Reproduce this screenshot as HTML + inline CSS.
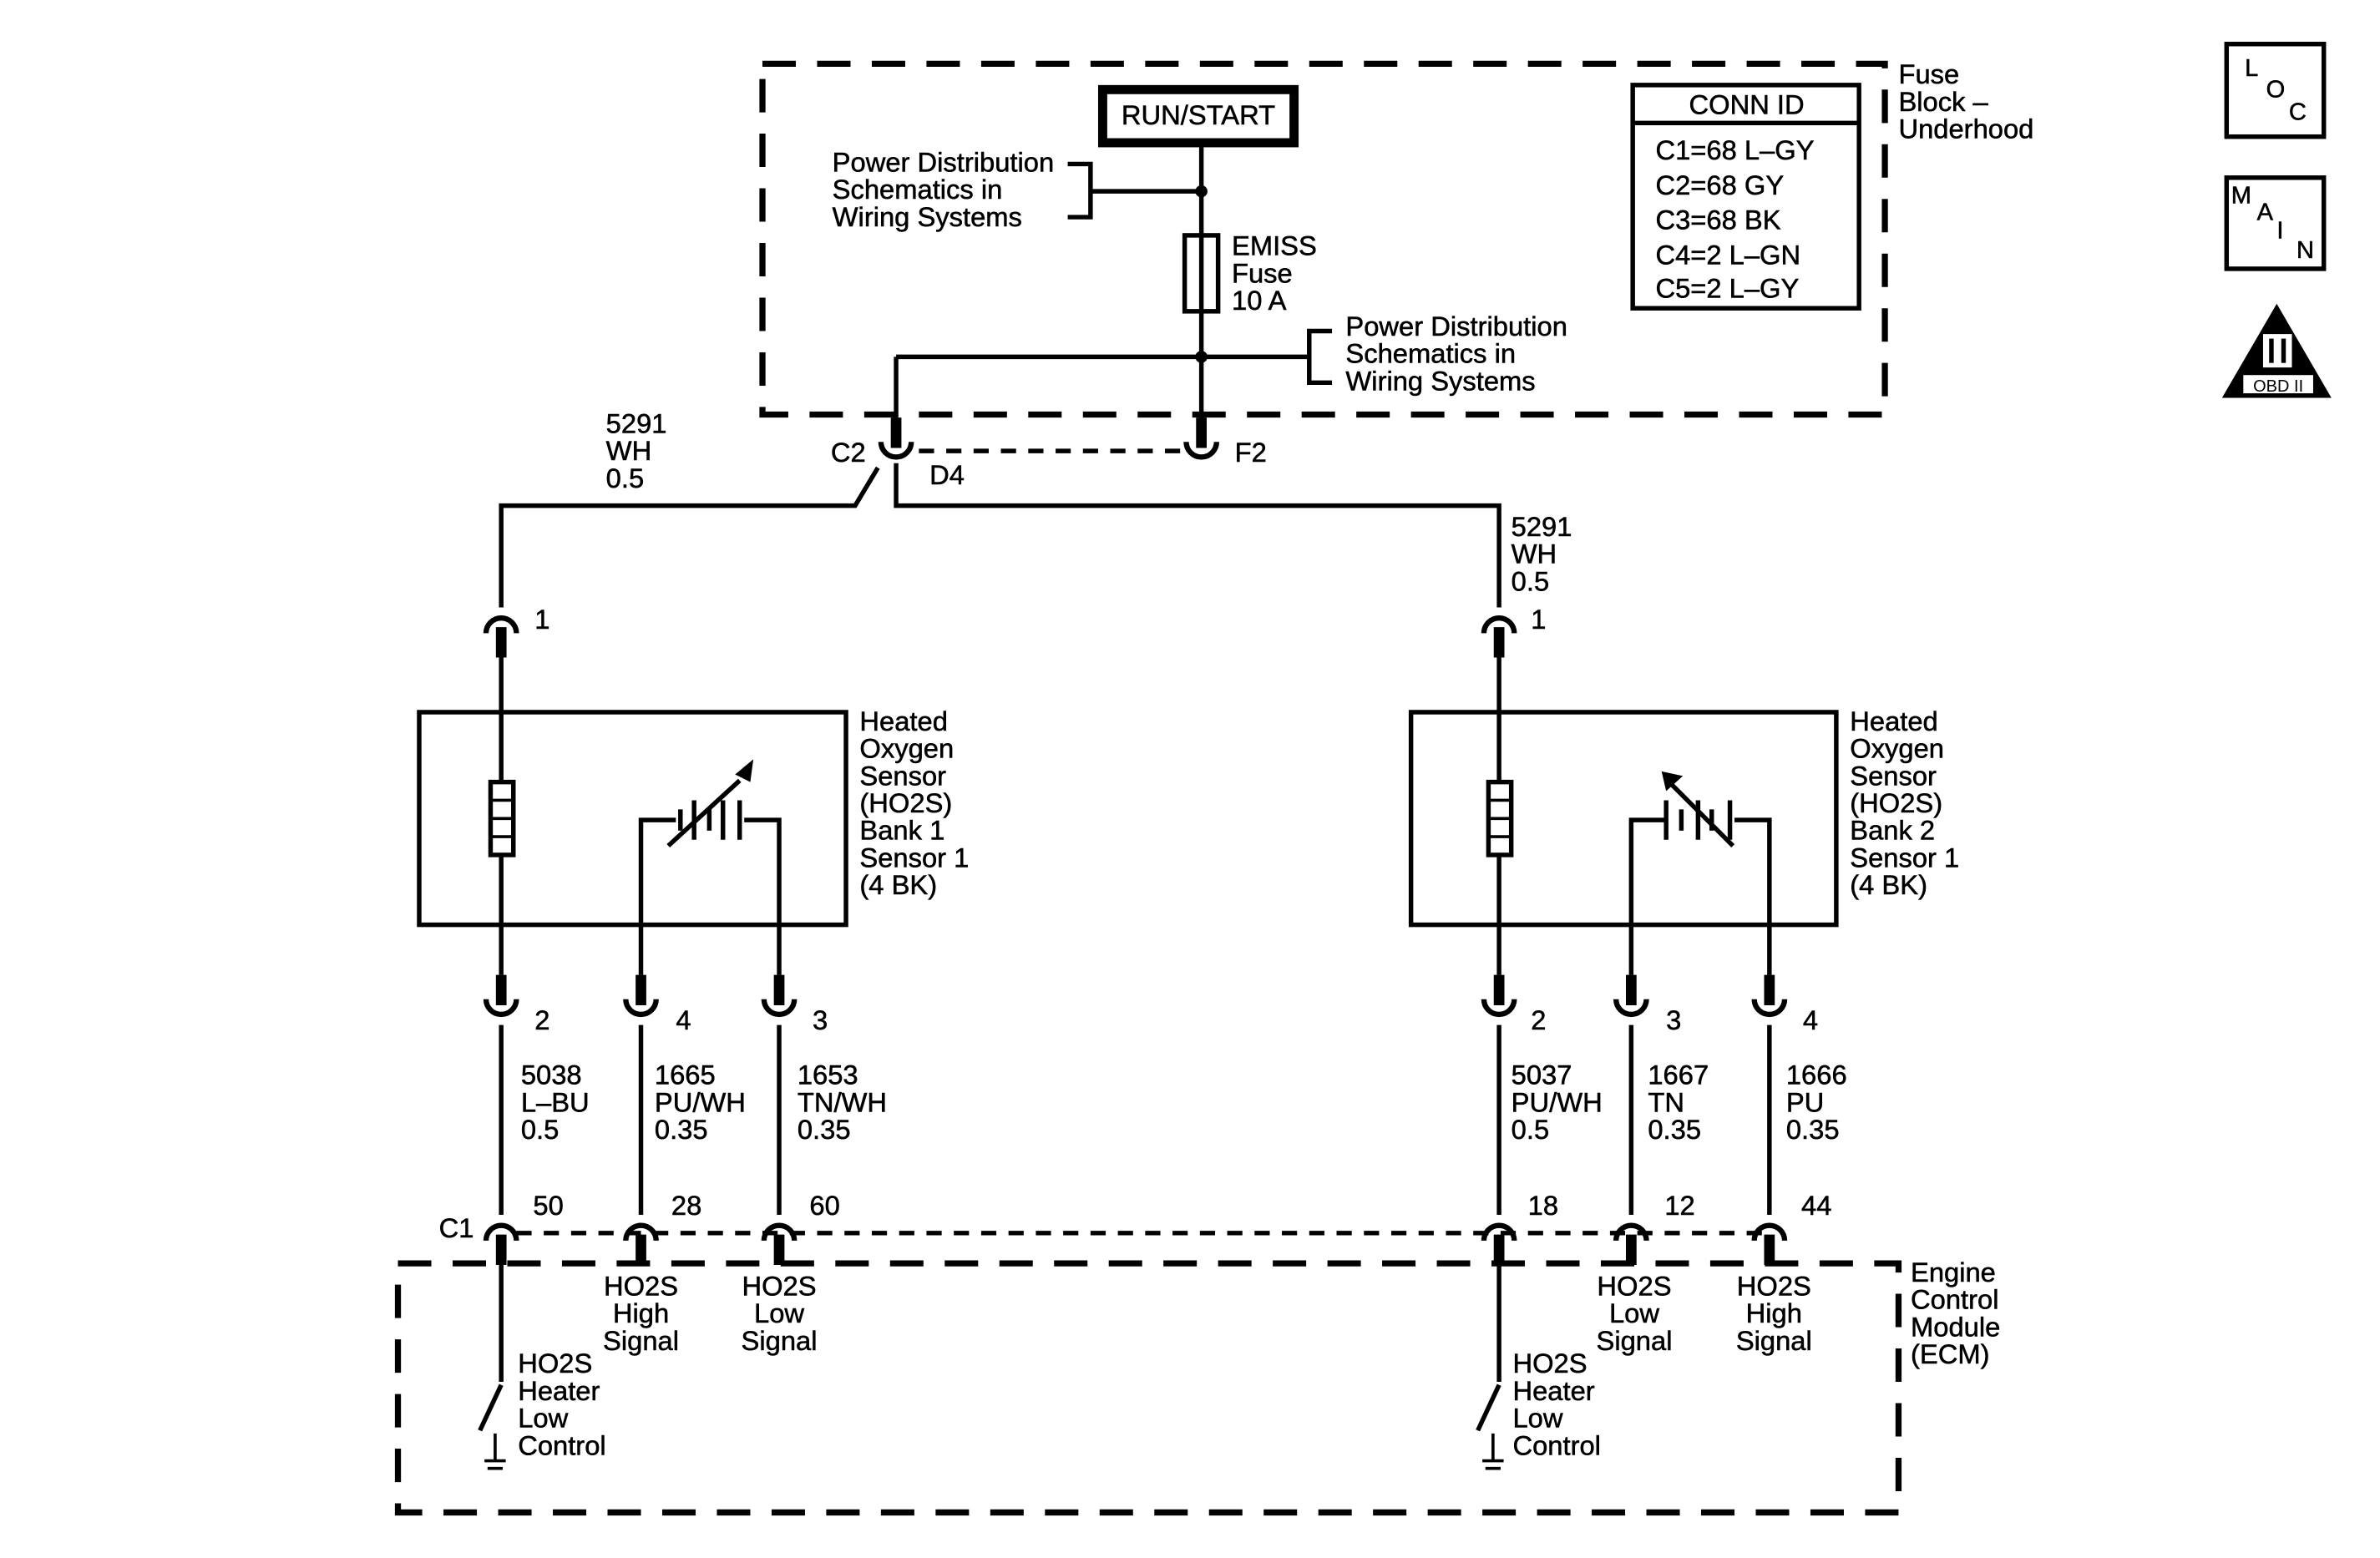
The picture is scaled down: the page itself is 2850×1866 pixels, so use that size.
<!DOCTYPE html>
<html><head><meta charset="utf-8"><style>
html,body{margin:0;padding:0;background:#fff}
svg{display:block}
text{font-family:"Liberation Sans",Arial,sans-serif;font-size:18px;fill:#000;stroke:#000;stroke-width:0.3}
</style></head><body>
<svg width="2850" height="1866" viewBox="0 0 1567 1026" preserveAspectRatio="none" xmlns="http://www.w3.org/2000/svg">
<defs>
<g id="arch"><path d="M-10 7 A10 10 0 0 1 10 7" fill="none" stroke="#000" stroke-width="3.5"/><rect x="-3.5" y="3" width="7" height="20" fill="#000"/></g>
<g id="cup"><path d="M-10 -7 A10 10 0 0 0 10 -7" fill="none" stroke="#000" stroke-width="3.5"/><rect x="-3.5" y="-23" width="7" height="20" fill="#000"/></g>
</defs>
<g fill="none" stroke="#000">
<rect x="502" y="42" width="739" height="231" stroke-width="4" stroke-dasharray="22,14"/>
<rect x="262" y="832" width="988" height="164" stroke-width="4" stroke-dasharray="22,14"/>
<line x1="340" y1="812" x2="1160" y2="812" stroke-width="3" stroke-dasharray="10,8"/>
<line x1="605" y1="297" x2="780" y2="297" stroke-width="3" stroke-dasharray="10,8"/>
<rect x="726" y="59" width="126" height="35" stroke-width="6"/>
<g stroke-width="3">
<line x1="791" y1="96" x2="791" y2="285"/>
<line x1="718" y1="126" x2="791" y2="126"/>
<polyline points="703,108 718,108 718,143 703,143"/>
<rect x="780" y="155" width="22" height="50"/>
<line x1="590" y1="235" x2="862" y2="235"/>
<polyline points="877,218 862,218 862,252 877,252"/>
<line x1="590" y1="235" x2="590" y2="285"/>
<polyline points="590,305 590,333 987,333 987,400"/>
<polyline points="578,308 563,333 330,333 330,400"/>
<rect x="276" y="469" width="281" height="140"/>
<line x1="330" y1="433" x2="330" y2="642"/>
<rect x="323" y="515" width="15" height="48" fill="#fff"/>
<polyline points="422,642 422,540 445,540"/>
<polyline points="513,642 513,540 490,540"/>
<rect x="929" y="469" width="280" height="140"/>
<line x1="987" y1="433" x2="987" y2="642"/>
<rect x="980" y="515" width="15" height="48" fill="#fff"/>
<polyline points="1074,642 1074,540 1097,540"/>
<polyline points="1165,642 1165,540 1142,540"/>
<line x1="330" y1="675" x2="330" y2="800"/>
<line x1="422" y1="675" x2="422" y2="800"/>
<line x1="513" y1="675" x2="513" y2="800"/>
<line x1="987" y1="675" x2="987" y2="800"/>
<line x1="1074" y1="675" x2="1074" y2="800"/>
<line x1="1165" y1="675" x2="1165" y2="800"/>
<line x1="330" y1="830" x2="330" y2="910"/>
<line x1="330" y1="912" x2="316" y2="942"/>
<line x1="987" y1="830" x2="987" y2="910"/>
<line x1="987" y1="912" x2="973" y2="942"/>
</g>
<g stroke-width="2">
<line x1="323" y1="527" x2="338" y2="527"/><line x1="323" y1="539" x2="338" y2="539"/><line x1="323" y1="551" x2="338" y2="551"/>
<line x1="980" y1="527" x2="995" y2="527"/><line x1="980" y1="539" x2="995" y2="539"/><line x1="980" y1="551" x2="995" y2="551"/>
</g>
<g stroke-width="3">
<line x1="448" y1="533" x2="448" y2="547"/><line x1="457" y1="527" x2="457" y2="553"/><line x1="467" y1="533" x2="467" y2="547"/><line x1="476" y1="527" x2="476" y2="553"/><line x1="487" y1="527" x2="487" y2="553"/>
<line x1="440" y1="557" x2="487" y2="514"/>
<line x1="1097" y1="527" x2="1097" y2="553"/><line x1="1107" y1="533" x2="1107" y2="547"/><line x1="1118" y1="527" x2="1118" y2="553"/><line x1="1127" y1="533" x2="1127" y2="547"/><line x1="1139" y1="527" x2="1139" y2="553"/>
<line x1="1141" y1="557" x2="1098" y2="514"/>
</g>
<g stroke-width="2">
<line x1="319" y1="962" x2="333" y2="962"/><line x1="321" y1="967" x2="331" y2="967"/>
<line x1="976" y1="962" x2="990" y2="962"/><line x1="978" y1="967" x2="988" y2="967"/>
<line x1="326" y1="944" x2="326" y2="962"/><line x1="983" y1="944" x2="983" y2="962"/>
</g>
<rect x="1075" y="56" width="149" height="147" stroke-width="3"/>
<line x1="1075" y1="81" x2="1224" y2="81" stroke-width="3"/>
<rect x="1466" y="29" width="64" height="61" stroke-width="3"/>
<rect x="1466" y="117" width="64" height="60" stroke-width="3"/>
</g>
<polygon points="484,510 496,500 494,515" fill="#000"/>
<polygon points="1094,508 1108,511 1097,521" fill="#000"/>
<circle cx="791" cy="126" r="4" fill="#000"/>
<circle cx="791" cy="235" r="4" fill="#000"/>
<polygon points="1499,200 1535,262 1463,262" fill="#000"/>
<rect x="1477" y="247" width="46" height="12" fill="#fff"/>
<rect x="1490" y="220" width="19" height="22" fill="#fff"/>
<rect x="1494" y="223" width="3" height="16" fill="#000"/><rect x="1502" y="223" width="3" height="16" fill="#000"/>
<text x="1500" y="258" text-anchor="middle" style="font-size:11px;stroke-width:0">OBD II</text>
<text x="1478" y="50" style="font-size:16px">L</text><text x="1492" y="64" style="font-size:16px">O</text><text x="1507" y="79" style="font-size:16px">C</text>
<text x="1469" y="134" style="font-size:16px">M</text><text x="1486" y="145" style="font-size:16px">A</text><text x="1499" y="157" style="font-size:16px">I</text><text x="1512" y="170" style="font-size:16px">N</text>
<use href="#cup" x="590" y="298"/><use href="#cup" x="791" y="298"/>
<use href="#arch" x="330" y="410"/><use href="#arch" x="987" y="410"/>
<use href="#cup" x="330" y="665"/><use href="#cup" x="422" y="665"/><use href="#cup" x="513" y="665"/>
<use href="#cup" x="987" y="665"/><use href="#cup" x="1074" y="665"/><use href="#cup" x="1165" y="665"/>
<use href="#arch" x="330" y="810"/><use href="#arch" x="422" y="810"/><use href="#arch" x="513" y="810"/>
<use href="#arch" x="987" y="810"/><use href="#arch" x="1074" y="810"/><use href="#arch" x="1165" y="810"/>
<text x="789" y="82" text-anchor="middle">RUN/START</text>
<text x="548" y="113">Power Distribution</text><text x="548" y="131">Schematics in</text><text x="548" y="149">Wiring Systems</text>
<text x="811" y="168">EMISS</text><text x="811" y="186">Fuse</text><text x="811" y="204">10 A</text>
<text x="886" y="221">Power Distribution</text><text x="886" y="239">Schematics in</text><text x="886" y="257">Wiring Systems</text>
<text x="1250" y="55">Fuse</text><text x="1250" y="73">Block –</text><text x="1250" y="91">Underhood</text>
<text x="1150" y="75" text-anchor="middle">CONN ID</text>
<text x="1090" y="105">C1=68 L–GY</text><text x="1090" y="128">C2=68 GY</text><text x="1090" y="151">C3=68 BK</text><text x="1090" y="174">C4=2 L–GN</text><text x="1090" y="196">C5=2 L–GY</text>
<text x="547" y="304">C2</text><text x="813" y="304">F2</text><text x="612" y="319">D4</text>
<text x="399" y="285">5291</text><text x="399" y="303">WH</text><text x="399" y="321">0.5</text>
<text x="995" y="353">5291</text><text x="995" y="371">WH</text><text x="995" y="389">0.5</text>
<text x="352" y="414">1</text><text x="1008" y="414">1</text>
<text x="566" y="481">Heated</text><text x="566" y="499">Oxygen</text><text x="566" y="517">Sensor</text><text x="566" y="535">(HO2S)</text><text x="566" y="553">Bank 1</text><text x="566" y="571">Sensor 1</text><text x="566" y="589">(4 BK)</text>
<text x="1218" y="481">Heated</text><text x="1218" y="499">Oxygen</text><text x="1218" y="517">Sensor</text><text x="1218" y="535">(HO2S)</text><text x="1218" y="553">Bank 2</text><text x="1218" y="571">Sensor 1</text><text x="1218" y="589">(4 BK)</text>
<text x="352" y="678">2</text><text x="445" y="678">4</text><text x="535" y="678">3</text>
<text x="1008" y="678">2</text><text x="1097" y="678">3</text><text x="1187" y="678">4</text>
<text x="343" y="714">5038</text><text x="343" y="732">L–BU</text><text x="343" y="750">0.5</text>
<text x="431" y="714">1665</text><text x="431" y="732">PU/WH</text><text x="431" y="750">0.35</text>
<text x="525" y="714">1653</text><text x="525" y="732">TN/WH</text><text x="525" y="750">0.35</text>
<text x="995" y="714">5037</text><text x="995" y="732">PU/WH</text><text x="995" y="750">0.5</text>
<text x="1085" y="714">1667</text><text x="1085" y="732">TN</text><text x="1085" y="750">0.35</text>
<text x="1176" y="714">1666</text><text x="1176" y="732">PU</text><text x="1176" y="750">0.35</text>
<text x="289" y="815">C1</text><text x="351" y="800">50</text><text x="442" y="800">28</text><text x="533" y="800">60</text>
<text x="1006" y="800">18</text><text x="1096" y="800">12</text><text x="1186" y="800">44</text>
<g text-anchor="middle">
<text x="422" y="853">HO2S</text><text x="422" y="871">High</text><text x="422" y="889">Signal</text>
<text x="513" y="853">HO2S</text><text x="513" y="871">Low</text><text x="513" y="889">Signal</text>
<text x="1076" y="853">HO2S</text><text x="1076" y="871">Low</text><text x="1076" y="889">Signal</text>
<text x="1168" y="853">HO2S</text><text x="1168" y="871">High</text><text x="1168" y="889">Signal</text>
</g>
<text x="341" y="904">HO2S</text><text x="341" y="922">Heater</text><text x="341" y="940">Low</text><text x="341" y="958">Control</text>
<text x="996" y="904">HO2S</text><text x="996" y="922">Heater</text><text x="996" y="940">Low</text><text x="996" y="958">Control</text>
<text x="1258" y="844">Engine</text><text x="1258" y="862">Control</text><text x="1258" y="880">Module</text><text x="1258" y="898">(ECM)</text>
</svg>
</body></html>
